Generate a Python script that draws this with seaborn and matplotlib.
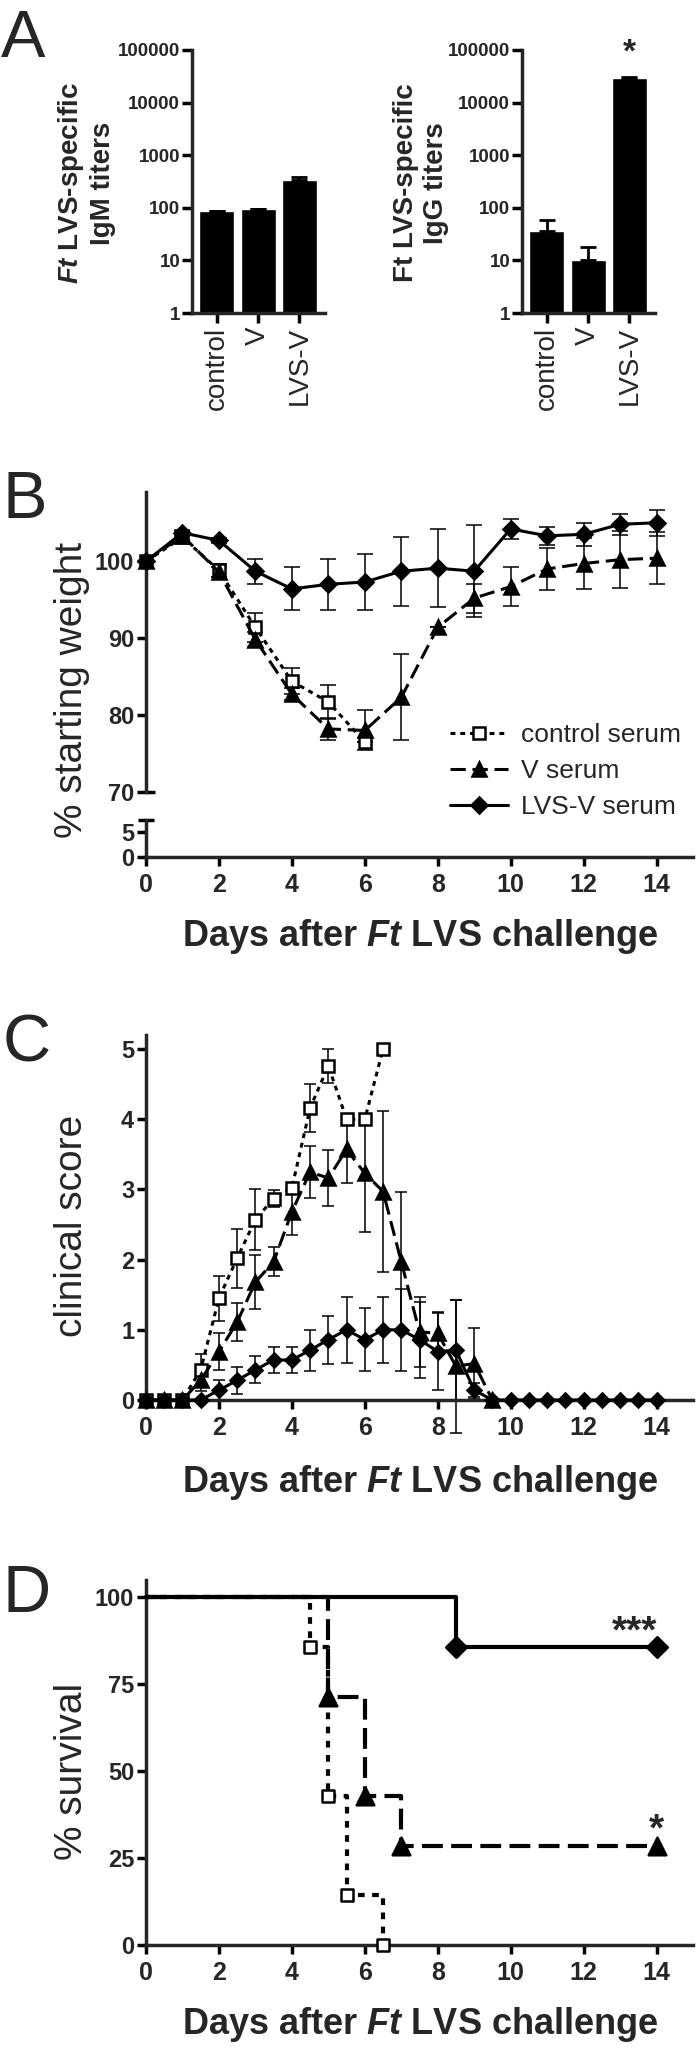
import matplotlib
matplotlib.use('Agg')
import matplotlib.pyplot as plt
import seaborn as sns

# ---------------- 数据 ----------------
# A: 抗体滴度
titer_groups = ['control', 'V', 'LVS-V']
igm_titer = [87, 95, 335]
igm_err = [0, 0, 55]
igg_titer = [37, 10, 29500]
igg_err = [22, 8, 1500]
titer_ticks = [1, 10, 100, 1000, 10000, 100000]
titer_tick_labels = ['1', '10', '100', '1000', '10000', '100000']

# B: 体重
weight_days_ctrl = [0, 1, 2, 3, 4, 5, 6]
weight_ctrl = [100, 103.1, 98.8, 91.4, 84.4, 81.7, 76.5]
weight_ctrl_err = [0, 0.5, 0.8, 1.9, 1.7, 2.2, 0]
weight_days = [0, 1, 2, 3, 4, 5, 6, 7, 8, 9, 10, 11, 12, 13, 14]
weight_v = [100, 103.3, 98.6, 89.8, 82.7, 78.2, 78.0, 82.3, 91.4, 95.2, 96.7, 99.0, 99.7, 100.2, 100.4]
weight_v_err = [0, 0.5, 0.7, 1.0, 0.8, 1.4, 2.6, 5.6, 0, 1.9, 2.5, 2.7, 3.3, 3.7, 3.4]
weight_lvs = [100, 103.7, 102.7, 98.7, 96.4, 97.0, 97.3, 98.7, 99.1, 98.7, 104.2, 103.3, 103.5, 104.8, 105.0]
weight_lvs_err = [0, 0.4, 0.3, 1.65, 2.8, 3.3, 3.7, 4.5, 5.1, 6.0, 1.3, 1.2, 1.5, 1.4, 1.7]

# C: 临床评分
score_days_ctrl = [0, 0.5, 1, 1.5, 2, 2.5, 3, 3.5, 4, 4.5, 5, 5.5, 6, 6.5]
score_ctrl = [0, 0, 0, 0.43, 1.45, 2.02, 2.57, 2.87, 3.02, 4.16, 4.76, 4.0, 4.0, 5.0]
score_ctrl_err = [0, 0, 0, 0.22, 0.32, 0.42, 0.43, 0.12, 0.05, 0.34, 0.24, 0, 0, 0]
score_days_v = [0, 0.5, 1, 1.5, 2, 2.5, 3, 3.5, 4, 4.5, 5, 5.5, 6, 6.5, 7, 7.5, 8, 8.5, 9, 9.5]
score_v = [0, 0, 0, 0.28, 0.69, 1.11, 1.68, 1.97, 2.68, 3.25, 3.16, 3.57, 3.23, 2.97, 1.97,
           0.97, 0.95, 0.48, 0.52, 0]
score_v_err = [0, 0, 0, 0.15, 0.26, 0.27, 0.38, 0.21, 0.33, 0.37, 0.40, 0.48, 0.84, 1.15, 1.0,
               0.5, 0.3, 0.95, 0.5, 0]
score_days_lvs = [0, 0.5, 1, 1.5, 2, 2.5, 3, 3.5, 4, 4.5, 5, 5.5, 6, 6.5, 7, 7.5, 8, 8.5, 9,
                  9.5, 10, 10.5, 11, 11.5, 12, 12.5, 13, 13.5, 14]
score_lvs = [0, 0, 0, 0, 0.14, 0.28, 0.43, 0.57, 0.57, 0.71, 0.86, 1.0, 0.86, 1.0, 1.0, 0.86,
             0.69, 0.71, 0.14, 0, 0, 0, 0, 0, 0, 0, 0, 0, 0]
score_lvs_err = [0, 0, 0, 0, 0.14, 0.19, 0.19, 0.19, 0.19, 0.29, 0.34, 0.47, 0.45, 0.47, 0.58,
                 0.54, 0.55, 0.72, 0.1, 0, 0, 0, 0, 0, 0, 0, 0, 0, 0]

# D: 生存率
surv_days_ctrl = [0, 4.5, 5, 5.5, 6.5]
surv_ctrl = [100, 85.7, 42.9, 14.3, 0]
surv_days_v = [0, 5, 6, 7, 14]
surv_v = [100, 71.4, 42.9, 28.6, 28.6]
surv_days_lvs = [0, 8.5, 14]
surv_lvs = [100, 85.7, 85.7]

day_ticks = [0, 2, 4, 6, 8, 10, 12, 14]
legend_labels = ['control serum', 'V serum', 'LVS-V serum']

# ---------------- 样式 ----------------
sns.set_style('ticks')
plt.rcParams['font.family'] = ['Liberation Sans', 'DejaVu Sans']
plt.rcParams['mathtext.fontset'] = 'custom'
plt.rcParams['mathtext.it'] = 'Liberation Sans:italic:bold'
plt.rcParams['mathtext.rm'] = 'Liberation Sans:bold'
plt.rcParams['mathtext.bf'] = 'Liberation Sans:bold'

DOT = (0, (1.6, 1.6))
DASH = (0, (5, 2.2))

W, H = 700, 2048
fig = plt.figure(figsize=(W / 100, H / 100), dpi=100)


def fx(x):
    return x / W


def fy(y):
    return 1 - y / H


def add_ax(left, top, right, bottom):
    return fig.add_axes([left / W, 1 - bottom / H, (right - left) / W, (bottom - top) / H])


def style_ax(ax, lw=2.5):
    sns.despine(ax=ax)
    for s in ['left', 'bottom']:
        ax.spines[s].set_linewidth(lw)
    ax.tick_params(width=lw, length=6.5, direction='out', color='k')
    ax.set_facecolor('none')


def day_axis(ax):
    ax.set_xlim(0, 15)
    ax.set_xticks(day_ticks)
    ax.set_xticklabels([str(d) for d in day_ticks], fontsize=18, fontweight='bold')
    ax.tick_params(axis='x', pad=5)


def panel_letter(s, x, base):
    fig.text(fx(x), fy(base), s, fontsize=48, ha='left', va='baseline')


def series(ax, days, vals, errs, ls, marker, ms, mfc, label=None, lw=2.2, capsize=5.5):
    ax.errorbar(days, vals, yerr=errs, fmt='none', ecolor='k', elinewidth=1.1,
                capsize=capsize, capthick=1.1, zorder=2, clip_on=False)
    sns.lineplot(x=days, y=vals, ax=ax, color='k', linestyle=ls, linewidth=lw,
                 marker=marker, markersize=ms, markerfacecolor=mfc, markeredgecolor='k',
                 markeredgewidth=1.8, label=label, errorbar=None, zorder=3, clip_on=False)


# ---------------- A ----------------
def titer_panel(ax, vals, errs):
    ax.set_yscale('log')
    sns.barplot(x=titer_groups, y=vals, color='black', saturation=1, width=0.85,
                errorbar=None, ax=ax)
    ax.errorbar([0, 1, 2], vals, yerr=[[0, 0, 0], errs], fmt='none', ecolor='k',
                elinewidth=2, capsize=6, capthick=2)
    style_ax(ax)
    ax.set_ylim(1, 1e5)
    ax.set_xlim(-0.6, 2.62)
    ax.set_yticks(titer_ticks)
    ax.set_yticklabels(titer_tick_labels, fontsize=13.5, fontweight='bold')
    ax.minorticks_off()
    ax.set_xticks([0, 1, 2])
    ax.set_xticklabels(titer_groups, rotation=90, fontsize=20)
    ax.tick_params(axis='y', pad=1.5, length=7)
    ax.tick_params(axis='x', pad=3, length=7)
    ax.set_xlabel('')
    ax.set_ylabel('')


axA1 = add_ax(192, 50, 325, 313)
titer_panel(axA1, igm_titer, igm_err)
axA2 = add_ax(522, 50, 655, 313)
titer_panel(axA2, igg_titer, igg_err)
axA2.text(2, 59000, '*', fontsize=24, fontweight='bold', ha='center', va='baseline',
          clip_on=False)

fig.text(fx(86), fy(183), '$Ft$ LVS-specific\nIgM titers', rotation=90, fontsize=20,
         fontweight='bold', ha='center', va='center', multialignment='center')
fig.text(fx(421), fy(183), 'Ft LVS-specific\nIgG titers', rotation=90, fontsize=20,
         fontweight='bold', ha='center', va='center', multialignment='center')
panel_letter('A', 1, 57)

# ---------------- B ----------------
axB = add_ax(146, 492, 693, 792)
axB0 = add_ax(146, 820, 693, 857)

series(axB, weight_days_ctrl, weight_ctrl, weight_ctrl_err, DOT, 's', 8.5, 'white',
       label=legend_labels[0])
series(axB, weight_days, weight_v, weight_v_err, DASH, '^', 10.5, 'k', label=legend_labels[1])
series(axB, weight_days, weight_lvs, weight_lvs_err, '-', 'D', 8, 'k', label=legend_labels[2])

style_ax(axB)
axB.spines['bottom'].set_visible(False)
axB.tick_params(axis='x', bottom=False, labelbottom=False)
axB.set_xlim(0, 15)
axB.set_ylim(70, 109)
axB.set_yticks([70, 80, 90, 100])
axB.set_yticklabels(['70', '80', '90', '100'], fontsize=17, fontweight='bold')
axB.tick_params(axis='y', pad=2)
axB.set_xlabel('')
axB.set_ylabel('')

style_ax(axB0)
axB0.set_ylim(0, 7.4)
axB0.set_yticks([0, 5])
axB0.set_yticklabels(['0', '5'], fontsize=17, fontweight='bold')
axB0.tick_params(axis='y', pad=2)
day_axis(axB0)

# 断轴标记
axB.plot([0, 9 / 547], [0, 0], transform=axB.transAxes, color='k', lw=2.5,
         clip_on=False, solid_capstyle='butt')
axB0.plot([-8 / 547, 8 / 547], [1, 1], transform=axB0.transAxes, color='k', lw=2.5,
          clip_on=False, solid_capstyle='butt')

axB.legend(loc='center left', bbox_to_anchor=(fx(450), fy(771)), bbox_transform=fig.transFigure,
           frameon=False, fontsize=19, handlelength=2.2, handletextpad=0.5,
           labelspacing=0.45, borderpad=0, borderaxespad=0)

fig.text(fx(72), fy(690), '% starting weight', rotation=90, fontsize=28,
         ha='center', va='center')
fig.text(fx(420), fy(937), 'Days after $Ft$ LVS challenge', fontsize=26,
         fontweight='bold', ha='center', va='center')
panel_letter('B', 3, 518)

# ---------------- C ----------------
axC = add_ax(146, 1035, 693, 1400)
series(axC, score_days_ctrl, score_ctrl, score_ctrl_err, DOT, 's', 8.5, 'white', capsize=4.5)
series(axC, score_days_v, score_v, score_v_err, DASH, '^', 10.5, 'k', capsize=4.5)
series(axC, score_days_lvs, score_lvs, score_lvs_err, '-', 'D', 7.5, 'k', capsize=4.5)
style_ax(axC)
axC.set_ylim(0, 5.2)
axC.set_yticks([0, 1, 2, 3, 4, 5])
axC.set_yticklabels(['0', '1', '2', '3', '4', '5'], fontsize=17, fontweight='bold')
axC.tick_params(axis='y', pad=2)
day_axis(axC)
axC.set_xlabel('')
axC.set_ylabel('')
if axC.get_legend() is not None:
    axC.get_legend().remove()

fig.text(fx(72), fy(1226), 'clinical score', rotation=90, fontsize=28,
         ha='center', va='center')
fig.text(fx(420), fy(1482), 'Days after $Ft$ LVS challenge', fontsize=26,
         fontweight='bold', ha='center', va='center')
panel_letter('C', 3, 1062)

# ---------------- D ----------------
axD = add_ax(146, 1580, 693, 1945)


def surv_curve(ax, days, vals, ls, marker, size, mfc):
    sns.lineplot(x=days, y=vals, ax=ax, color='k', linestyle=ls, linewidth=3,
                 drawstyle='steps-post', errorbar=None, zorder=3, clip_on=False)
    sns.scatterplot(x=days[1:], y=vals[1:], ax=ax, marker=marker, s=size, color=mfc,
                    edgecolor='k', linewidth=1.8, zorder=4, clip_on=False)


surv_curve(axD, surv_days_ctrl, surv_ctrl, (0, (1.6, 1.8)), 's', 80, 'white')
surv_curve(axD, surv_days_v, surv_v, (0, (5, 2)), '^', 160, 'k')
surv_curve(axD, surv_days_lvs, surv_lvs, '-', 'D', 110, 'k')
style_ax(axD)
axD.set_ylim(0, 105)
axD.set_yticks([0, 25, 50, 75, 100])
axD.set_yticklabels(['0', '25', '50', '75', '100'], fontsize=17, fontweight='bold')
axD.tick_params(axis='y', pad=2)
day_axis(axD)
axD.set_xlabel('')
axD.set_ylabel('')
axD.text(13.4, 87, '***', fontsize=28, fontweight='bold', ha='center', va='baseline')
axD.text(14, 30, '*', fontsize=28, fontweight='bold', ha='center', va='baseline')

fig.text(fx(72), fy(1771), '% survival', rotation=90, fontsize=28,
         ha='center', va='center')
fig.text(fx(420), fy(2025), 'Days after $Ft$ LVS challenge', fontsize=26,
         fontweight='bold', ha='center', va='center')
panel_letter('D', 3, 1612)

fig.savefig('out.png', dpi=100, facecolor='white')
